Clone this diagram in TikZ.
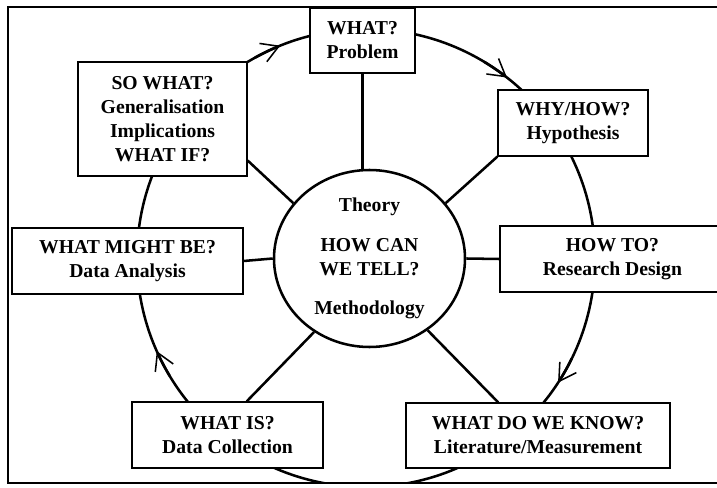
\documentclass[tikz,border=0pt]{standalone}
\usepackage{fontspec}
\setmainfont{Liberation Serif}
\usetikzlibrary{
    shapes.geometric,
    arrows.meta,
    calc
}

\begin{document}
\begin{tikzpicture}[
        box/.style={rectangle, draw, line width=0.9pt, fill=white, align=center, inner sep=2pt, font=\bfseries\fontsize{14}{17}\selectfont},
        hubnode/.style={ellipse, draw, line width=1.8pt, fill=white, minimum width=4.775cm, minimum height=4.425cm, inner sep=0pt, align=center, font=\bfseries\fontsize{14}{17}\selectfont},
        spoke/.style={line width=1.8pt},
        turn/.style={line width=1.8pt, -{Straight Barb[length=12pt, width=14pt, line width=1.1pt]}}
    ]
        \useasboundingbox (0,0) rectangle (17.925,12.175);
        \draw[line width=0.9pt] (0.2,0.1) rectangle (18.3,12.0);

        \begin{scope}
            \clip (0.2,0.1) rectangle (18.3,12.0);
            \node[circle, draw, line width=1.8pt, minimum size=11.45cm, inner sep=0pt, outer sep=0pt] (loop) at (9.15,5.725) {};
        \end{scope}

        \node[box, minimum width=2.625cm, minimum height=1.625cm] (what) at (9.0625,11.1625) {WHAT?\\Problem};
        \node[box, minimum width=3.75cm, minimum height=1.65cm] (why) at (14.325,9.1) {WHY/HOW?\\Hypothesis};
        \node[box, minimum width=5.625cm, minimum height=1.65cm] (howto) at (15.3125,5.7) {HOW TO?\\Research Design};
        \node[box, minimum width=6.6cm, minimum height=1.625cm] (know) at (13.45,1.2875) {WHAT DO WE KNOW?\\Literature/Measurement};
        \node[box, minimum width=4.775cm, minimum height=1.65cm] (is) at (5.6875,1.3) {WHAT IS?\\Data Collection};
        \node[box, minimum width=5.775cm, minimum height=1.65cm] (might) at (3.1875,5.65) {WHAT MIGHT BE?\\Data Analysis};
        \node[box, minimum width=4.225cm, minimum height=2.85cm] (so) at (4.0625,9.2) {SO WHAT?\\Generalisation\\Implications\\WHAT IF?};

        \node[hubnode] (hub) at (9.2375,5.7125) {Theory\\[11pt]HOW CAN\\WE TELL?\\[11pt]Methodology};

        \draw[spoke] (what.south) -- (what.south |- hub.north);
        \draw[spoke] (hub.36) -- (why.south west);
        \draw[spoke] (hub.east) -- (howto.west);
        \draw[spoke] (hub.-51) -- ($(know.north west)!0.35!(know.north east)$);
        \draw[spoke] (hub.-127) -- ($(is.north west)!0.6!(is.north east)$);
        \draw[spoke] (might.east) -- (hub.west);
        \draw[spoke] (hub.144) -- ($(so.south east)!0.14!(so.north east)$);

        \draw[turn] (loop.119) arc[start angle=119, end angle=112, radius=5.725cm];
        \draw[turn] (loop.59) arc[start angle=59, end angle=52, radius=5.725cm];
        \draw[turn] (loop.-26) arc[start angle=-26, end angle=-33, radius=5.725cm];
        \draw[turn] (loop.-149) arc[start angle=-149, end angle=-156, radius=5.725cm];
    \end{tikzpicture}
\end{document}
